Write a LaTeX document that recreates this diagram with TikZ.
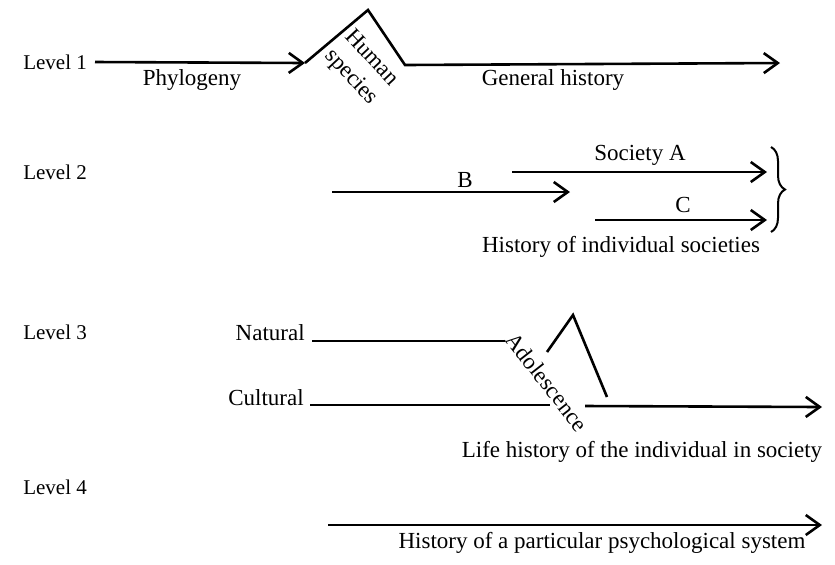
\documentclass[tikz,border=0pt]{standalone}
\usepackage{fontspec}
\setmainfont{Liberation Serif}
\usetikzlibrary{arrows.meta,decorations.pathreplacing}

\begin{document}
\begin{tikzpicture}[x=0.5pt,y=-0.5pt,>={Straight Barb[length=7pt,width=10pt]},line width=1.3pt,font=\fontsize{11.5}{14}\selectfont]
\useasboundingbox (0,0) rectangle (835,564);
\tikzset{lvl/.style={right,inner sep=0pt,font=\fontsize{10.5}{12}\selectfont}}
% level labels
\foreach \n/\y in {1/62,2/172,3/332,4/487} \node[lvl] (lev\n) at (22,\y){Level \n};
% level 1
\coordinate (ph0) at (95,62); \coordinate (ph1) at (305,63); \coordinate (hs) at (368,10);
\coordinate (gh0) at (405,65); \coordinate (gh1) at (780,63);
\draw[->] (ph0)--(ph1);
\draw[->] (ph1)--(hs)--(gh0)--(gh1);
\node (phyl) at (192,80){Phylogeny};
\node (gen) at (553,80){General history};
\node[rotate=-47,align=center,inner sep=0pt] (human) at (361,68){Human\\species};
% level 2
\coordinate (a0) at (512,172); \coordinate (a1) at (767,172);
\coordinate (b0) at (332,192); \coordinate (b1) at (570,192);
\coordinate (c0) at (595,220); \coordinate (c1) at (767,220);
\draw[->] (a0)--(a1); \draw[->] (b0)--(b1); \draw[->] (c0)--(c1);
\node (soca) at (640,155){Society A};
\node (socb) at (465,180){B};
\node (socc) at (683,205){C};
\draw[line width=1pt,decorate,decoration={brace,amplitude=7pt}] (771,147)--(771,232);
\node (indiv) at (621,247){History of individual societies};
% level 3
\node[left,inner sep=0pt] (nat) at (306,333){Natural};
\node[left,inner sep=0pt] (cult) at (305,398){Cultural};
\coordinate (n0) at (312,341); \coordinate (n1) at (505,341);
\coordinate (k0) at (310,405); \coordinate (k1) at (550,405);
\coordinate (k2) at (585,406); \coordinate (k3) at (822,407);
\coordinate (ad0) at (547,352); \coordinate (ad1) at (573,315); \coordinate (ad2) at (607,397);
\draw (n0)--(n1); \draw (k0)--(k1); \draw[->] (k2)--(k3);
\draw (ad0)--(ad1)--(ad2);
\node[rotate=-52,inner sep=0pt] (adol) at (547,382){Adolescence};
\node (life) at (642,452){Life history of the individual in society};
% level 4
\coordinate (s0) at (328,525); \coordinate (s1) at (822,525);
\draw[->] (s0)--(s1);
\node (psy) at (602,543){History of a particular psychological system};
\end{tikzpicture}
\end{document}
